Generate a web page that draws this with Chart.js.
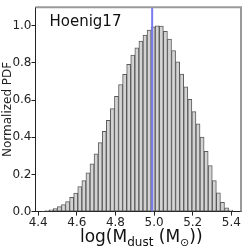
<!DOCTYPE html>
<html><head><meta charset="utf-8">
<script src="https://cdn.jsdelivr.net/npm/chart.js@4.4.1/dist/chart.umd.min.js"></script>
<style>html,body{margin:0;padding:0;background:#fff}canvas{display:block}</style>
</head><body>
<canvas id="c" width="249" height="249"></canvas>
<script>
// histogram bins (left edge, width) and normalized heights
const binLo = 4.415, binWidth = 0.0211;
const pdf = [0.002,0.005,0.009,0.016,0.027,0.038,0.054,0.077,0.100,0.135,
  0.167,0.209,0.257,0.311,0.371,0.432,0.491,0.554,0.621,0.684,
  0.739,0.793,0.842,0.881,0.917,0.950,0.977,0.994,1.000,0.998,
  0.970,0.928,0.867,0.806,0.740,0.672,0.604,0.538,0.473,0.401,
  0.325,0.248,0.167,0.101,0.050,0.020,0.008];
const xTicks = [4.4,4.6,4.8,5.0,5.2,5.4];
const yTicks = [0,0.2,0.4,0.6,0.8,1.0];
const bestFit = 4.99;
const modelName = 'Hoenig17';

Chart.defaults.font.family = 'DejaVu Sans';
Chart.defaults.color = '#222';

const frame = {
  id:'frame',
  afterDraw(chart){
    const {ctx, chartArea:a} = chart;
    ctx.save();
    ctx.strokeStyle = '#999'; ctx.lineWidth = 2;
    ctx.beginPath();
    ctx.moveTo(a.left, a.top); ctx.lineTo(a.right, a.top); ctx.lineTo(a.right, a.bottom);
    ctx.stroke();
    ctx.fillStyle = '#111';
    ctx.font = '15px DejaVu Sans';
    ctx.textBaseline = 'alphabetic';
    ctx.fillText(modelName, a.left + 14, a.top + 19);
    // x label with subscripts
    const parts = [['log(M',17,0],['dust',12,4],[' (M',17,0],['\u2299',11,4],['))',17,0]];
    let w = 0;
    parts.forEach(p=>{ ctx.font = p[1]+'px DejaVu Sans'; w += ctx.measureText(p[0]).width; });
    let x = (a.left + a.right)/2 - w/2 + 3;
    const base = 242;
    parts.forEach(p=>{ ctx.font = p[1]+'px DejaVu Sans'; ctx.fillText(p[0], x, base + p[2]); x += ctx.measureText(p[0]).width; });
    ctx.restore();
  }
};

new Chart(document.getElementById('c'), {
  data: {
    datasets: [
      { type:'line', data:[{x:bestFit,y:0},{x:bestFit,y:1.1}], borderColor:'#7b7bf0', borderWidth:2, pointRadius:0, order:0 },
      { type:'bar', data: pdf.map((v,i)=>({x: binLo + binWidth*(i+0.5), y: v})),
        backgroundColor:'#d3d3d3', borderColor:'#5a5a5a', borderWidth:1, borderSkipped:false,
        barPercentage:1, categoryPercentage:1, order:1 }
    ]
  },
  options: {
    responsive:false, animation:false, devicePixelRatio:1,
    layout:{ padding:{ left:0, right:8, top:7, bottom:19 } },
    plugins:{ legend:{ display:false }, tooltip:{ enabled:false } },
    scales:{
      x:{ type:'linear', min:4.386, max:5.450, offset:false,
        afterBuildTicks: s => { s.ticks = xTicks.map(v=>({value:v})); },
        grid:{ drawOnChartArea:false, offset:false, tickLength:4, color:'#222' },
        border:{ color:'#222' },
        ticks:{ font:{ size:12 }, padding:0, maxRotation:0, callback:v=>v.toFixed(1) } },
      y:{ min:0, max:1.1,
        afterBuildTicks: s => { s.ticks = yTicks.map(v=>({value:v})); },
        grid:{ drawOnChartArea:false, tickLength:4, color:'#222' },
        border:{ color:'#222' },
        ticks:{ font:{ size:12 }, padding:0, callback:v=>v.toFixed(1) },
        title:{ display:true, text:'Normalized PDF', font:{ size:12 }, padding:{ top:1, bottom:-3 } } }
    }
  },
  plugins:[frame]
});
</script>
</body></html>
